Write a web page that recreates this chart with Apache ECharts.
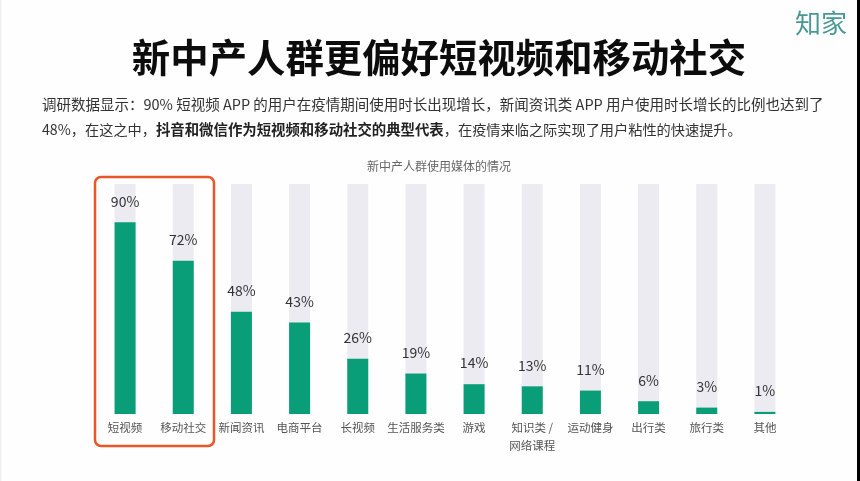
<!DOCTYPE html>
<html><head><meta charset="utf-8">
<style>html,body{margin:0;padding:0;background:#fff}#c{width:860px;height:481px}</style>
<script src="https://cdn.jsdelivr.net/npm/echarts@6/dist/echarts.min.js"></script></head>
<body><div id="c"></div>
<script>
const categories = ['短视频','移动社交','新闻资讯','电商平台','长视频','生活服务类','游戏','知识类 /\n网络课程','运动健身','出行类','旅行类','其他'];
const shares = [90,72,48,43,26,19,14,13,11,6,3,1];
const axisMax = 108;
const FONT = '"Noto Sans CJK SC","Noto Sans",sans-serif';
const chart = echarts.init(document.getElementById('c'), null, {renderer:'canvas'});
chart.setOption({
  animation:false,
  backgroundColor:'#fefefe',
  title:[
    {text:'新中产人群更偏好短视频和移动社交',left:434,top:29,textAlign:'center',textStyle:{fontFamily:FONT,fontSize:38.4,fontWeight:'bold',color:'#0c0c0c',lineHeight:46}},
    {text:'调研数据显示：90% 短视频 APP 的用户在疫情期间使用时长出现增长，新闻资讯类 APP 用户使用时长增长的比例也达到了',left:37,top:90,textStyle:{fontFamily:FONT,fontSize:14.5,fontWeight:'normal',color:'#333',lineHeight:18}},
    {text:'48%，在这之中，{b|抖音和微信作为短视频和移动社交的典型代表}，在疫情来临之际实现了用户粘性的快速提升。',left:37,top:116,textStyle:{fontFamily:FONT,fontSize:14.2,fontWeight:'normal',color:'#333',lineHeight:18,rich:{b:{fontFamily:FONT,fontSize:14.4,fontWeight:'bold',color:'#222',lineHeight:18}}}},
    {text:'新中产人群使用媒体的情况',left:434,top:153,textAlign:'center',textStyle:{fontFamily:FONT,fontSize:12,fontWeight:'normal',color:'#666',lineHeight:16}},
    {text:'知家',left:790,top:3,textStyle:{fontFamily:FONT,fontSize:26,fontWeight:'normal',color:'#4a9896',lineHeight:30}}
  ],
  grid:{left:96,right:66,top:184,bottom:67},
  xAxis:{type:'category',data:categories,axisLine:{show:false},axisTick:{show:false},
    axisLabel:{interval:0,margin:5,fontFamily:FONT,fontSize:11.5,color:'#555',lineHeight:18,verticalAlign:'top'}},
  yAxis:{type:'value',min:0,max:axisMax,show:false,splitLine:{show:false}},
  series:[{type:'bar',data:shares,barWidth:21,itemStyle:{color:'#0a9e78'},
    showBackground:true,backgroundStyle:{color:'#ecebf1'},
    label:{show:true,position:'top',distance:14,formatter:'{c}%',fontFamily:FONT,fontSize:14,color:'#333'}}],
  graphic:[
    {type:'rect',shape:{x:95,y:177,width:119,height:269,r:6},style:{fill:'none',stroke:'#e8562a',lineWidth:2.5},z:10},
    {type:'rect',shape:{x:857,y:0,width:3,height:481},style:{fill:'#000'},z:10},
    {type:'rect',shape:{x:0,y:0,width:1.5,height:481},style:{fill:'#f0f0f0'},z:10}
  ]
});
</script></body></html>
